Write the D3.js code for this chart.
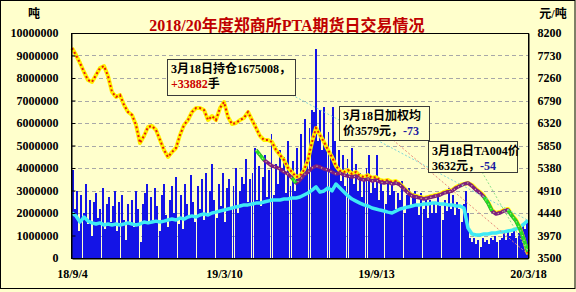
<!DOCTYPE html>
<html><head><meta charset="utf-8">
<script src="https://cdn.jsdelivr.net/npm/d3@7"></script>
<style>html,body{margin:0;padding:0;background:#FFFFCC;} svg{display:block}</style>
</head><body>
<svg id="c" width="576" height="292"></svg>
<script>
// ---- data ----
const volume = [
3.9,2.2,3.0,1.2,2.8,2.0,3.3,1.5,2.6,
1.0,2.5,2.9,1.8,2.2,3.1,1.3,2.4,2.7,1.6,
2.3,3.0,1.2,2.5,2.8,1.7,0.8,2.4,1.5,
2.6,1.4,3.0,2.2,0.7,2.4,2.9,3.3,1.6,2.7,
1.7,3.1,2.3,1.2,2.8,3.3,1.9,1.4,2.6,
3.2,2.0,3.6,1.5,2.8,1.3,3.3,2.4,1.8,3.7,
2.5,1.6,3.2,2.2,3.5,1.7,3.8,1.9,3.0,
4.2,2.6,1.8,3.3,2.3,3.8,1.6,3.1,3.5,2.2,
3.2,4.0,2.0,3.0,3.6,3.3,4.4,2.5,3.5,
3.8,4.9,2.6,4.1,2.3,3.6,4.6,2.7,3.9,5.5,
2.8,4.2,3.3,4.8,4.0,4.5,2.9,5.2,3.2,
4.3,3.0,4.9,3.6,5.5,3.9,6.2,4.2,5.8,6.6,
6.5,9.3,5.2,6.6,4.8,6.7,5.0,5.6,4.6,6.7,
5.2,4.0,4.8,3.4,4.6,3.2,4.4,3.6,4.9,3.3,
4.2,3.0,3.8,2.7,3.5,4.0,4.6,2.9,3.4,
3.1,4.6,2.6,3.5,3.0,2.4,3.3,2.8,3.4,
3.0,2.2,2.9,2.6,3.4,2.0,2.8,3.1,2.3,2.9,
3.0,2.4,1.9,2.9,2.2,2.7,1.8,2.6,2.0,
2.5,2.0,2.9,2.3,1.7,2.6,2.1,3.1,2.2,2.8,
1.9,2.5,2.2,1.6,2.4,3.0,2.0,0.9,0.7,
0.9,0.6,0.8,0.5,0.9,0.7,0.8,0.6,0.9,0.8,
1.0,0.7,0.8,0.9,1.1,0.8,1.2,1.0,1.1,
1.2,0.9,1.1,1.2,1.5,1.3,1.6
].map(v => v * 1e6);

const openInterest = [
2.00,1.87,1.60,1.82,1.64,1.56,1.51,1.56,1.47,1.51,
1.47,1.51,1.47,1.51,1.56,1.51,1.47,1.51,1.60,1.56,
1.60,1.64,1.60,1.64,1.69,1.73,1.69,1.78,1.73,1.82,
1.87,1.82,1.91,1.96,1.91,2.00,2.04,2.09,2.13,2.18,
2.22,2.27,2.31,2.36,2.36,2.40,2.44,2.44,2.49,2.53,
2.58,2.58,2.58,2.62,2.62,2.67,2.67,2.71,2.80,2.89,
3.02,3.16,2.93,2.98,3.11,2.98,3.29,3.11,2.93,2.76,
2.62,2.53,2.44,2.36,2.31,2.22,2.18,2.13,2.09,2.04,
2.00,2.09,2.18,2.22,2.27,2.31,2.36,2.36,2.40,2.40,
2.44,2.44,2.40,2.40,2.36,2.36,2.31,2.31,2.22,1.33,
1.07,1.02,1.02,1.07,1.07,1.11,1.11,1.16,1.16,1.20,
1.24,1.29,1.38,1.51,1.675008
].map(v => v * 1e6);

const avgPrice = [
7887,7740,7573,7385,7218,7176,7323,7469,7511,7302,
6968,6863,6905,6696,6550,6487,6278,5902,6048,6236,
6257,6174,5965,5756,5610,5714,5798,6069,6278,6383,
6550,6633,6633,6592,6383,6466,6383,6633,6759,6445,
6299,6320,6383,6425,6550,6383,6216,6048,5965,5965,
5923,5756,5652,5547,5380,5296,5192,5213,5338,5547,
5923,6216,6069,5923,5756,5610,5422,5317,5296,5338,
5255,5296,5213,5192,5234,5171,5192,5129,5108,5129,
5088,5108,5046,4962,4879,4816,4795,4774,4753,4774,
4795,4816,4837,4879,4900,4920,4983,5025,5046,5067,
5025,4941,4879,4795,4670,4503,4440,4461,4503,4524,
4398,4294,4127,3876,3579
];

const ta004 = Array(46).fill(null).concat([
5756,5652,5547,5484,5422,5401,5359,5296,5255,5171,
5067,5129,5234,5296,5380,5422,5401,5359,5338,5296,
5255,5276,5234,5213,5192,5213,5150,5129,5150,5108,
5129,5088,5067,5088,5046,5067,5025,4941,4858,4795,
4774,4753,4732,4753,4774,4795,4816,4858,4879,4900,
4962,5004,5046,5067,5004,4920,4858,4774,4649,4482,
4419,4440,4482,4503,4377,4273,4106,3876,3632
]);

const leftTicks = [0,1000000,2000000,3000000,4000000,5000000,6000000,7000000,8000000,9000000,10000000];
const rightTicks = [3500,3970,4440,4910,5380,5850,6320,6790,7260,7730,8200];
const dateTicks = ["2018-09-04","2019-03-10","2019-09-13","2020-03-18"];
const dateLabels = ["18/9/4","19/3/10","19/9/13","20/3/18"];
const title = "2018/20年度郑商所PTA期货日交易情况";
const notes = [
  {l1:[["3月18日持仓1675008，","#000"]], l2:[["+33882","#CC0000"],["手","#000"]]},
  {l1:[["3月18日加权均","#000"]], l2:[["价3579元，","#000"],["-73","#1A1AA0"]]},
  {l1:[["3月18日TA004价","#000"]], l2:[["3632元，","#000"],["-54","#1A1AA0"]]}
];

// ---- layout ----
const W = 576, H = 292;
const L = 71, R = 528, T = 33, B = 258;
const svg = d3.select("#c");
const FONT = "'Liberation Serif','Noto Sans CJK SC',serif";

svg.append("rect").attr("x",0).attr("y",0).attr("width",W).attr("height",H).attr("fill","#FFFFCC");
svg.append("rect").attr("x",0.5).attr("y",0.5).attr("width",W-1.5).attr("height",288).attr("fill","none").attr("stroke","#000");

const yL = d3.scaleLinear().domain([0,10000000]).range([B,T]);
const yR = d3.scaleLinear().domain([3500,8200]).range([B,T]);
const xb = d3.scaleBand().domain(d3.range(volume.length)).range([L+1,R]).paddingInner(0.075);
const xl = d3.scaleLinear().domain([0, avgPrice.length-1]).range([L+1,R]);
const parse = d3.timeParse("%Y-%m-%d");
const xt = d3.scaleTime().domain([parse(dateTicks[0]), parse(dateTicks[dateTicks.length-1])]).range([L+1,R]);

// gridlines
svg.append("g").selectAll("line").data(leftTicks.slice(1,-1)).join("line")
  .attr("x1",L).attr("x2",R).attr("y1",d=>Math.round(yL(d))+0.5).attr("y2",d=>Math.round(yL(d))+0.5)
  .attr("stroke","#A8A8A8").attr("stroke-dasharray","4,3");

// bars (pixel-snapped edges)
const bx0 = i => Math.round(xb(i));
const bx1 = i => Math.round(xb(i) + xb.bandwidth());
svg.append("g").attr("shape-rendering","crispEdges").selectAll("rect").data(volume).join("rect")
  .attr("x",(d,i)=>bx0(i)).attr("width",(d,i)=>bx1(i)-bx0(i))
  .attr("y",d=>Math.round(yL(d))).attr("height",d=>B-Math.round(yL(d))).attr("fill","#1414E6");

// open interest (cyan)
const lineOI = d3.line().x((d,i)=>xl(i)).y(d=>yL(d));
svg.append("path").datum(openInterest).attr("d",lineOI).attr("fill","none")
  .attr("stroke","#3FEAF5").attr("stroke-width",3.5).attr("stroke-linejoin","round");

// avg price (yellow + red)
const lineP = d3.line().defined(d=>d!=null).x((d,i)=>xl(i)).y(d=>yR(d));
svg.append("path").datum(avgPrice).attr("d",lineP).attr("fill","none")
  .attr("stroke","#FFF200").attr("stroke-width",4).attr("stroke-linejoin","round");
svg.append("path").datum(avgPrice).attr("d",lineP).attr("fill","none")
  .attr("stroke","#E8170F").attr("stroke-width",2).attr("stroke-dasharray","2,2.5");

// TA004 (purple with green on sharp drops)
svg.append("path").datum(ta004).attr("d",lineP).attr("fill","none")
  .attr("stroke","#7E1E80").attr("stroke-width",3.5).attr("stroke-linejoin","round");
const segs = [];
ta004.forEach((d,i)=>{ if(i>0 && d!=null && ta004[i-1]!=null && ta004[i-1]-d>100) segs.push([i-1,i]); });
svg.append("g").selectAll("line").data(segs).join("line")
  .attr("x1",d=>xl(d[0])).attr("y1",d=>yR(ta004[d[0]])).attr("x2",d=>xl(d[1])).attr("y2",d=>yR(ta004[d[1]]))
  .attr("stroke","#22E022").attr("stroke-width",3.5);
svg.append("path").datum(ta004).attr("d",lineP).attr("fill","none")
  .attr("stroke","#D8D890").attr("stroke-width",1.2).attr("stroke-dasharray","1,4");

// leader lines
const lastI = avgPrice.length-1;
const leaders = [
  {x1:292,y1:95,x2:xl(lastI),y2:yL(openInterest[lastI]),c:"#7ED6D6"},
  {x1:393,y1:140,x2:xl(lastI),y2:yR(avgPrice[lastI]),c:"#E88A7A"},
  {x1:482,y1:172,x2:xl(lastI),y2:yR(ta004[lastI]),c:"#8AE08A"}
];
svg.append("g").selectAll("line").data(leaders).join("line")
  .attr("x1",d=>d.x1).attr("y1",d=>d.y1).attr("x2",d=>d.x2).attr("y2",d=>d.y2)
  .attr("stroke",d=>d.c).attr("stroke-width",1).attr("stroke-dasharray","2,2");

// frame
svg.append("rect").attr("x",L+0.5).attr("y",T+0.5).attr("width",R-L).attr("height",B-T)
  .attr("fill","none").attr("stroke","#000").attr("stroke-width",1);

// axes
const axL = svg.append("g").attr("transform",`translate(${L+0.5},0)`)
  .call(d3.axisLeft(yL).tickValues(leftTicks).tickSizeInner(-4).tickSizeOuter(0).tickPadding(13).tickFormat(d3.format("d")));
const axR = svg.append("g").attr("transform",`translate(${R+0.5},0)`)
  .call(d3.axisRight(yR).tickValues(rightTicks).tickSizeInner(0).tickSizeOuter(0).tickPadding(9).tickFormat(d3.format("d")));
const axB = svg.append("g").attr("transform",`translate(0,${B+0.5})`)
  .call(d3.axisBottom(xt).tickValues(dateTicks.map(parse)).tickSize(0).tickPadding(11)
    .tickFormat((d,i)=>dateLabels[i]));
[axL,axR,axB].forEach(a=>{
  a.select(".domain").attr("stroke","#000");
  a.selectAll("text").attr("font-family",FONT).attr("font-weight","bold").attr("font-size","12px").attr("fill","#000");
});

// units and title
svg.append("text").attr("x",34).attr("y",18).attr("text-anchor","middle")
  .attr("font-family",FONT).attr("font-weight","bold").attr("font-size","12px").text("吨");
svg.append("text").attr("x",553).attr("y",18).attr("text-anchor","middle")
  .attr("font-family",FONT).attr("font-weight","bold").attr("font-size","12px").text("元/吨");
svg.append("text").attr("x",287).attr("y",31).attr("text-anchor","middle")
  .attr("font-family",FONT).attr("font-weight","bold").attr("font-size","16px").attr("fill","#C00000").text(title);

// annotation boxes
const boxes = [
  {x:167,y:59,w:128,h:36},
  {x:339,y:106,w:90,h:34},
  {x:428,y:141,w:89,h:31}
];
boxes.forEach((b,k)=>{
  svg.append("rect").attr("x",b.x+0.5).attr("y",b.y+0.5).attr("width",b.w).attr("height",b.h)
    .attr("fill","#FFFFCC").attr("stroke","#3A3A3A");
  [notes[k].l1, notes[k].l2].forEach((parts,li)=>{
    const t = svg.append("text").attr("x",b.x+4).attr("y",b.y+14+li*15)
      .attr("font-family",FONT).attr("font-weight","bold").attr("font-size","12px");
    parts.forEach(p=>t.append("tspan").attr("fill",p[1]).text(p[0]));
  });
});
</script>
</body></html>
